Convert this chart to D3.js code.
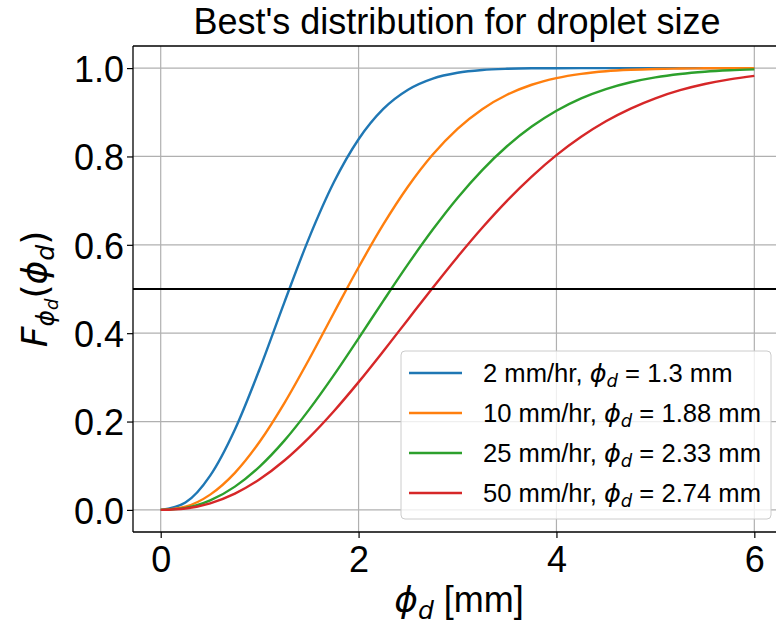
<!DOCTYPE html>
<html>
<head>
<meta charset="utf-8">
<script src="https://cdn.jsdelivr.net/npm/d3@7"></script>
<style>
  html, body { margin: 0; padding: 0; background: #fff; }
  svg { display: block; }
  text { font-family: "Liberation Sans", Arial, sans-serif; fill: #000; }
  .math { font-family: "DejaVu Sans", sans-serif; font-style: italic; }
</style>
</head>
<body>
<svg id="chart" width="776" height="625"></svg>
<script>
// ---- data ----
const diameters = [0, 0.25, 0.5, 0.75, 1, 1.25, 1.5, 1.75, 2, 2.25, 2.5, 2.75, 3, 3.25, 3.5, 3.75, 4, 4.25, 4.5, 4.75, 5, 5.25, 5.5, 5.75, 6];
const cdf2mm  = [0, 0.0168, 0.0776, 0.1821, 0.3189, 0.4699, 0.6158, 0.7415, 0.8390, 0.9076, 0.9511, 0.9763, 0.9894, 0.9957, 0.9984, 0.9995, 0.9998, 1.0, 1.0, 1.0, 1.0, 1.0, 1.0, 1.0, 1.0];
const cdf10mm = [0, 0.0074, 0.0346, 0.0839, 0.1542, 0.2417, 0.3410, 0.4457, 0.5492, 0.6460, 0.7319, 0.8043, 0.8624, 0.9070, 0.9396, 0.9623, 0.9774, 0.9870, 0.9929, 0.9962, 0.9981, 0.9991, 0.9996, 0.9998, 0.9999];
const cdf25mm = [0, 0.0046, 0.0215, 0.0527, 0.0982, 0.1569, 0.2270, 0.3051, 0.3884, 0.4731, 0.5562, 0.6345, 0.7061, 0.7692, 0.8231, 0.8677, 0.9035, 0.9315, 0.9526, 0.9680, 0.9790, 0.9866, 0.9917, 0.9950, 0.9971];
const cdf50mm = [0, 0.0032, 0.0150, 0.0369, 0.0693, 0.1118, 0.1637, 0.2234, 0.2892, 0.3592, 0.4312, 0.5029, 0.5726, 0.6387, 0.6996, 0.7544, 0.8029, 0.8445, 0.8796, 0.9084, 0.9317, 0.9500, 0.9640, 0.9746, 0.9825];
const rainRates = ["2 mm/hr", "10 mm/hr", "25 mm/hr", "50 mm/hr"];
const medianDiameters = ["1.3", "1.88", "2.33", "2.74"];
const seriesColors = ["#1f77b4", "#ff7f0e", "#2ca02c", "#d62728"];
const xTicks = [0, 2, 4, 6];
const yTicks = [0.0, 0.2, 0.4, 0.6, 0.8, 1.0];
const medianLevel = 0.5;

const allSeries = [cdf2mm, cdf10mm, cdf25mm, cdf50mm];

// ---- layout ----
const svg = d3.select("#chart");
const plot = { left: 133, top: 46, right: 784, bottom: 532 };

const x = d3.scaleLinear().domain([-0.28, 6.3]).range([plot.left, plot.right]);
const y = d3.scaleLinear().domain([-0.05, 1.05]).range([plot.bottom, plot.top]);

const tickFont = 36;

// grid
const grid = svg.append("g");
grid.selectAll(".gx").data(xTicks).join("line")
  .attr("x1", d => x(d)).attr("x2", d => x(d))
  .attr("y1", plot.top).attr("y2", plot.bottom)
  .attr("stroke", "#b0b0b0").attr("stroke-width", 1.2);
grid.selectAll(".gy").data(yTicks).join("line")
  .attr("x1", plot.left).attr("x2", plot.right)
  .attr("y1", d => y(d)).attr("y2", d => y(d))
  .attr("stroke", "#b0b0b0").attr("stroke-width", 1.2);

// lines
const line = d3.line()
  .x((d, i) => x(diameters[i]))
  .y(d => y(d))
  .curve(d3.curveMonotoneX);

svg.append("g").selectAll("path").data(allSeries).join("path")
  .attr("d", d => line(d))
  .attr("fill", "none")
  .attr("stroke", (d, i) => seriesColors[i])
  .attr("stroke-width", 2.4);

// median line
svg.append("line")
  .attr("x1", plot.left).attr("x2", plot.right)
  .attr("y1", y(medianLevel)).attr("y2", y(medianLevel))
  .attr("stroke", "#000").attr("stroke-width", 2.2);

// axes
const xAxis = d3.axisBottom(x).tickValues(xTicks).tickFormat(d3.format("d")).tickSize(6).tickPadding(8);
const yAxis = d3.axisLeft(y).tickValues(yTicks).tickFormat(d3.format(".1f")).tickSize(6).tickPadding(3);

const gx = svg.append("g").attr("transform", `translate(0,${plot.bottom})`).call(xAxis);
const gy = svg.append("g").attr("transform", `translate(${plot.left},0)`).call(yAxis);
[gx, gy].forEach(g => {
  g.select(".domain").remove();
  g.selectAll(".tick line").attr("stroke", "#000").attr("stroke-width", 1.2);
  g.selectAll(".tick text").attr("font-size", tickFont)
    .attr("font-family", "Liberation Sans, Arial, sans-serif").attr("fill", "#000");
});
gx.selectAll(".tick text").attr("dy", "0.72em");
gy.selectAll(".tick text").attr("dy", "0.37em");

// spines
svg.append("line").attr("x1", plot.left).attr("x2", plot.left).attr("y1", plot.top).attr("y2", plot.bottom)
  .attr("stroke", "#000").attr("stroke-width", 1.3);
svg.append("line").attr("x1", plot.left).attr("x2", plot.right).attr("y1", plot.bottom).attr("y2", plot.bottom)
  .attr("stroke", "#000").attr("stroke-width", 1.3);
svg.append("line").attr("x1", plot.left).attr("x2", plot.right).attr("y1", plot.top).attr("y2", plot.top)
  .attr("stroke", "#000").attr("stroke-width", 1.3);

// title
svg.append("text")
  .attr("x", 457).attr("y", 34)
  .attr("text-anchor", "middle")
  .attr("font-size", 36)
  .text("Best's distribution for droplet size");

// x label
const xl = svg.append("text")
  .attr("x", 459).attr("y", 612)
  .attr("text-anchor", "middle")
  .attr("font-size", 36);
xl.append("tspan").attr("class", "math").text("ϕ");
xl.append("tspan").attr("class", "math").attr("font-size", 25).attr("dy", 7).text("d");
xl.append("tspan").attr("dy", -7).text(" [mm]");

// y label
const yl = svg.append("text")
  .attr("transform", "translate(47,289) rotate(-90)")
  .attr("text-anchor", "middle")
  .attr("font-size", 36);
yl.append("tspan").attr("class", "math").text("F");
yl.append("tspan").attr("class", "math").attr("font-size", 25).attr("dy", 7).text("ϕ");
yl.append("tspan").attr("class", "math").attr("font-size", 18).attr("dy", 4).text("d");
yl.append("tspan").attr("font-family", "DejaVu Sans").attr("dy", -11).text("(");
yl.append("tspan").attr("class", "math").text("ϕ");
yl.append("tspan").attr("class", "math").attr("font-size", 25).attr("dy", 7).text("d");
yl.append("tspan").attr("font-family", "DejaVu Sans").attr("dy", -7).text(")");

// legend
const legend = svg.append("g");
legend.append("rect")
  .attr("x", 401).attr("y", 351).attr("width", 370).attr("height", 168)
  .attr("rx", 4).attr("ry", 4)
  .attr("fill", "#fff").attr("fill-opacity", 0.8)
  .attr("stroke", "#cccccc").attr("stroke-width", 1);
const rowY = d3.scalePoint().domain(d3.range(rainRates.length)).range([373, 493]);
const items = legend.selectAll(".item").data(rainRates).join("g")
  .attr("transform", (d, i) => `translate(0,${rowY(i)})`);
items.append("line")
  .attr("x1", 409).attr("x2", 462).attr("y1", 0).attr("y2", 0)
  .attr("stroke", (d, i) => seriesColors[i]).attr("stroke-width", 2.4);
const lt = items.append("text")
  .attr("x", 483).attr("y", 9)
  .attr("font-size", 25.6);
lt.append("tspan").text(d => d + ", ");
lt.append("tspan").attr("class", "math").text("ϕ");
lt.append("tspan").attr("class", "math").attr("font-size", 18).attr("dy", 5).text("d");
lt.append("tspan").attr("dy", -5).text((d, i) => " = " + medianDiameters[i] + " mm");
</script>
</body>
</html>
